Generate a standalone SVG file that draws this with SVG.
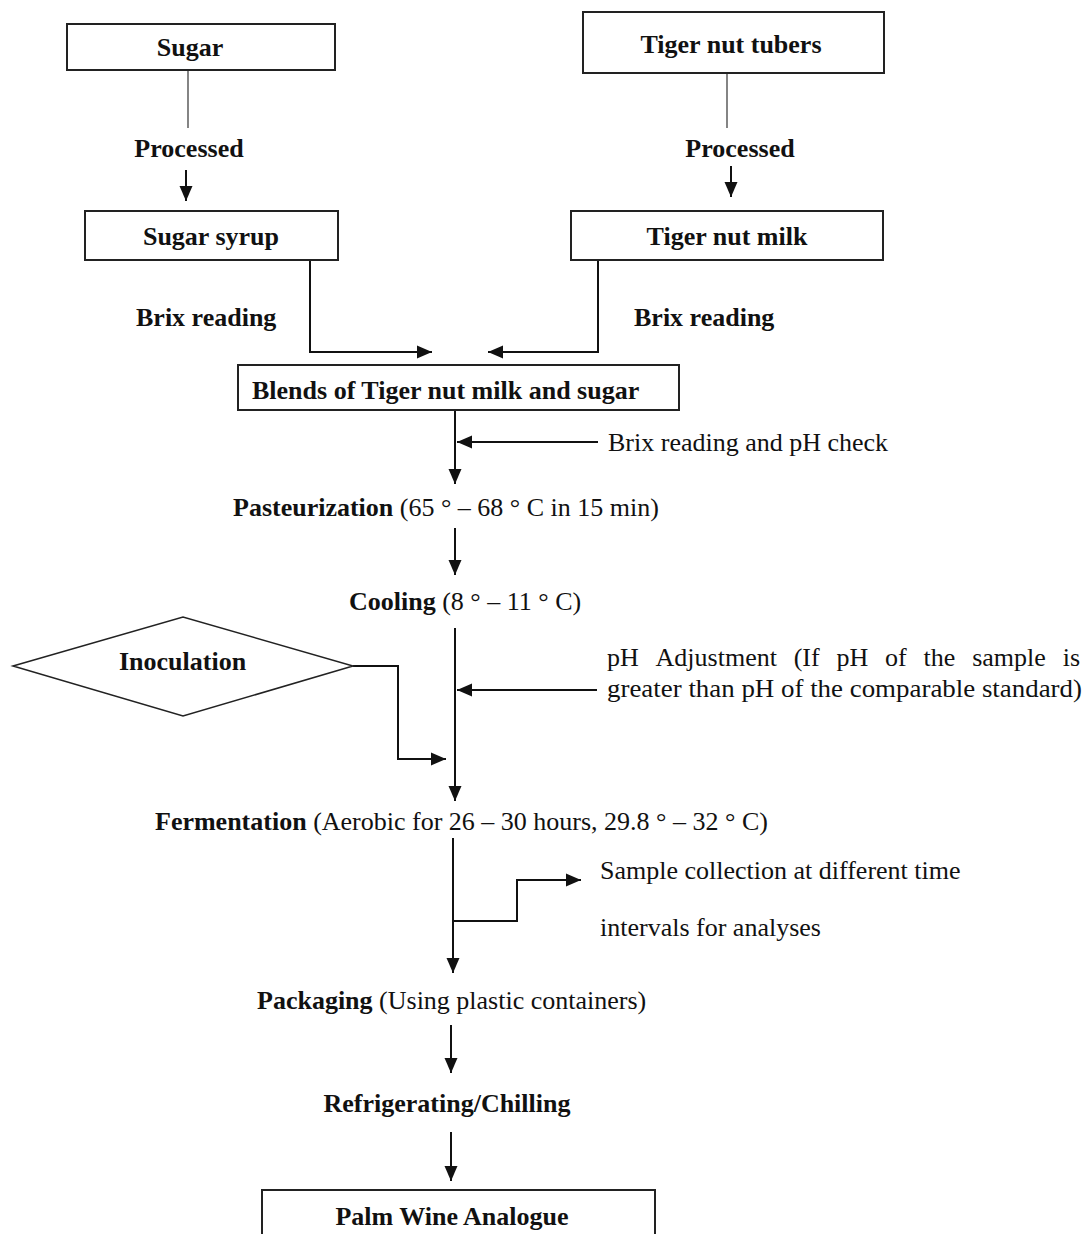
<svg xmlns="http://www.w3.org/2000/svg" width="1086" height="1234" viewBox="0 0 1086 1234">
<style>
.box{fill:#fff;stroke:#222;stroke-width:2}
.ln{fill:none;stroke:#111;stroke-width:2}
.thin{fill:none;stroke:#333;stroke-width:1.2}
text{font-family:"Liberation Serif","Times New Roman",serif;font-size:26px;fill:#111}
.b{font-weight:bold}
.c{text-anchor:middle}
</style>
<defs>
<marker id="ah" markerUnits="userSpaceOnUse" markerWidth="16" markerHeight="16" viewBox="0 0 16 16" refX="15" refY="8" orient="auto">
<path d="M0,1.5 L15,8 L0,14.5 Z" fill="#111"/>
</marker>
</defs>
<rect width="1086" height="1234" fill="#fff"/>
<g id="connectors">
<line class="thin" x1="188" y1="70" x2="188" y2="128"/>
<line class="ln" x1="186" y1="170" x2="186" y2="201" marker-end="url(#ah)"/>
<line class="thin" x1="727" y1="73" x2="727" y2="128"/>
<line class="ln" x1="731" y1="166" x2="731" y2="197" marker-end="url(#ah)"/>
<polyline class="ln" points="310,260 310,352 432,352" marker-end="url(#ah)"/>
<polyline class="ln" points="598,260 598,352 488,352" marker-end="url(#ah)"/>
<line class="ln" x1="455" y1="410" x2="455" y2="484" marker-end="url(#ah)"/>
<line class="ln" x1="598" y1="442" x2="457" y2="442" marker-end="url(#ah)"/>
<line class="ln" x1="455" y1="528" x2="455" y2="575" marker-end="url(#ah)"/>
<line class="ln" x1="455" y1="628" x2="455" y2="801" marker-end="url(#ah)"/>
<line class="ln" x1="597" y1="690" x2="457" y2="690" marker-end="url(#ah)"/>
<polyline class="ln" points="353,666 398,666 398,759 446,759" marker-end="url(#ah)"/>
<line class="ln" x1="453" y1="838" x2="453" y2="973" marker-end="url(#ah)"/>
<polyline class="ln" points="453,921 517,921 517,880 581,880" marker-end="url(#ah)"/>
<line class="ln" x1="451" y1="1025" x2="451" y2="1073" marker-end="url(#ah)"/>
<line class="ln" x1="451" y1="1132" x2="451" y2="1181" marker-end="url(#ah)"/>
</g>
<g id="sugar">
<rect class="box" x="67" y="24" width="268" height="46"/>
<text class="b c" x="190" y="56">Sugar</text>
</g>
<g id="tubers">
<rect class="box" x="583" y="12" width="301" height="61"/>
<text class="b c" x="731" y="53">Tiger nut tubers</text>
</g>
<g id="processed1"><text class="b c" x="189" y="157">Processed</text></g>
<g id="processed2"><text class="b c" x="740" y="157">Processed</text></g>
<g id="syrup">
<rect class="box" x="85" y="211" width="253" height="49"/>
<text class="b c" x="211" y="245">Sugar syrup</text>
</g>
<g id="milk">
<rect class="box" x="571" y="211" width="312" height="49"/>
<text class="b c" x="727" y="245">Tiger nut milk</text>
</g>
<g id="brix1"><text class="b" x="136" y="326">Brix reading</text></g>
<g id="brix2"><text class="b" x="634" y="326">Brix reading</text></g>
<g id="blends">
<rect class="box" x="238" y="365" width="441" height="45"/>
<text class="b" x="252" y="399">Blends of Tiger nut milk and sugar</text>
</g>
<g id="brixph"><text x="608" y="451">Brix reading and pH check</text></g>
<g id="pasteurization"><text x="233" y="516"><tspan class="b">Pasteurization</tspan> (65 ° – 68 ° C in 15 min)</text></g>
<g id="cooling"><text x="349" y="610"><tspan class="b">Cooling</tspan> (8 ° – 11 ° C)</text></g>
<g id="inoculation">
<polygon class="box" points="13,666 183,617 353,666 183,716" style="stroke-width:1.5"/>
<text class="b" x="119" y="670">Inoculation</text>
</g>
<g id="phadj">
<text y="666"><tspan x="607">pH</tspan><tspan x="655.6">Adjustment</tspan><tspan x="793.7">(If</tspan><tspan x="836.5">pH</tspan><tspan x="885.1">of</tspan><tspan x="923.6">the</tspan><tspan x="972.2">sample</tspan><tspan x="1062.7">is</tspan></text>
<text x="607" y="697" textLength="475" lengthAdjust="spacingAndGlyphs">greater than pH of the comparable standard)</text>
</g>
<g id="fermentation"><text x="155" y="830"><tspan class="b">Fermentation</tspan> (Aerobic for 26 – 30 hours, 29.8 ° – 32 ° C)</text></g>
<g id="sample">
<text x="600" y="879">Sample collection at different time</text>
<text x="600" y="936">intervals for analyses</text>
</g>
<g id="packaging"><text x="257" y="1009"><tspan class="b">Packaging</tspan> (Using plastic containers)</text></g>
<g id="refrigerating"><text class="b c" x="447" y="1112">Refrigerating/Chilling</text></g>
<g id="palmwine">
<rect class="box" x="262" y="1190" width="393" height="60"/>
<text class="b c" x="452" y="1225">Palm Wine Analogue</text>
</g>
</svg>
